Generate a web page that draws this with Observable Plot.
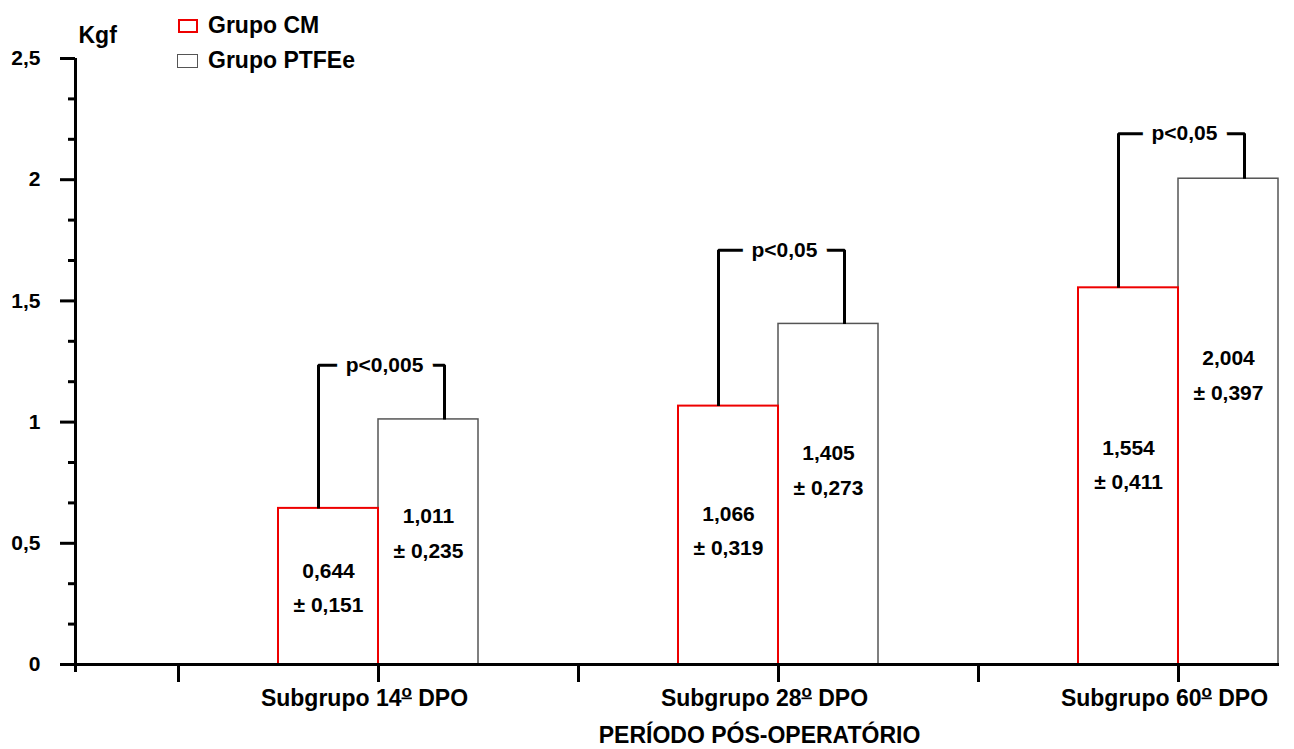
<!DOCTYPE html>
<html><head><meta charset="utf-8">
<script src="https://cdn.jsdelivr.net/npm/d3@7"></script>
<script src="https://cdn.jsdelivr.net/npm/@observablehq/plot@0.6"></script>
<style>
body{margin:0;background:#fff;}
#wrap{position:relative;width:1294px;height:749px;font-family:"Liberation Sans",Arial,sans-serif;}
.lg{position:absolute;font-weight:bold;font-size:23px;line-height:23px;white-space:nowrap;color:#000;}
.sw{position:absolute;box-sizing:border-box;width:20px;height:14px;background:#fff;}
</style></head><body><div id="wrap"></div>
<script>
// ---- data ----
const categories = ["Subgrupo 14º DPO", "Subgrupo 28º DPO", "Subgrupo 60º DPO"];
const cmMean = [0.644, 1.066, 1.554];
const cmSd = [0.151, 0.319, 0.411];
const ptfeMean = [1.011, 1.405, 2.004];
const ptfeSd = [0.235, 0.273, 0.397];
const pLabels = ["p<0,005", "p<0,05", "p<0,05"];
const bracketY = [1.235, 1.709, 2.19];
const yTicks = [0, 0.5, 1, 1.5, 2, 2.5];
const yTickLabels = ["0", "0,5", "1", "1,5", "2", "2,5"];
const seriesNames = ["Grupo CM", "Grupo PTFEe"];
const xAxisTitle = "PERÍODO PÓS-OPERATÓRIO";
const yAxisTitle = "Kgf";

// ---- build ----
const FONT = '"Liberation Sans", Arial, sans-serif';
const RED = "#ee0000", GREY = "#555";
const xMin = 0.2425, xMax = 3.2525;
const halfTicks = d3.range(1, 7).map(k => k / 2);
const minorTicks = d3.range(0, 15).map(k => k / 6).filter(v => Math.abs(v * 2 - Math.round(v * 2)) > 1e-6);
const groups = categories.map((c, i) => ({
  cat: c, x: i + 1, cm: cmMean[i], cmSd: cmSd[i], pt: ptfeMean[i], ptSd: ptfeSd[i], p: pLabels[i], by: bracketY[i]
}));
const fmt = v => v.toFixed(3).replace(".", ",");
const brackets = groups.flatMap((g, i) => [
  {g: i, x: g.x - 0.15, y: g.cm},
  {g: i, x: g.x - 0.15, y: g.by},
  {g: i, x: g.x + 0.165, y: g.by},
  {g: i, x: g.x + 0.165, y: g.pt}
]);
const txt = {fontSize: 21, fontWeight: "bold", fill: "black"};

const chart = Plot.plot({
  width: 1294, height: 749,
  marginLeft: 75, marginRight: 15, marginTop: 58, marginBottom: 85,
  style: {fontFamily: FONT, background: "white", overflow: "visible"},
  x: {domain: [xMin, xMax], axis: null},
  y: {domain: [0, 2.5], axis: null},
  marks: [
    Plot.rect(groups, {x1: "x", x2: d => d.x + 0.25, y1: 0, y2: "pt", fill: "white", stroke: GREY, strokeWidth: 1.5}),
    Plot.rect(groups, {x1: d => d.x - 0.25, x2: "x", y1: 0, y2: "cm", fill: "white", stroke: RED, strokeWidth: 2}),
    Plot.line(brackets, {x: "x", y: "y", z: "g", stroke: "black", strokeWidth: 3, strokeLinejoin: "miter", strokeLinecap: "butt"}),
    Plot.text(groups, {x: d => d.x + 0.015, y: "by", text: "p", lineAnchor: "middle", ...txt, stroke: "white", strokeWidth: 20}),
    Plot.text(groups, {x: d => d.x - 0.125, y: d => 0.555 * d.cm, text: d => fmt(d.cm), lineAnchor: "bottom", ...txt}),
    Plot.text(groups, {x: d => d.x - 0.125, y: d => 0.555 * d.cm, dy: 34, text: d => "± " + fmt(d.cmSd), lineAnchor: "bottom", ...txt}),
    Plot.text(groups, {x: d => d.x + 0.125, y: d => 0.658 * d.pt - 0.082, text: d => fmt(d.pt), lineAnchor: "bottom", ...txt}),
    Plot.text(groups, {x: d => d.x + 0.125, y: d => 0.658 * d.pt - 0.082, dy: 35, text: d => "± " + fmt(d.ptSd), lineAnchor: "bottom", ...txt}),
    // axes
    Plot.ruleY([0], {x1: xMin, x2: xMax, stroke: "black", strokeWidth: 3}),
    Plot.ruleX([xMin], {y1: 0, y2: 2.5, stroke: "black", strokeWidth: 3}),
    Plot.axisY({ticks: yTicks, tickSize: 15, tickPadding: 20, strokeWidth: 3, label: null,
      tickFormat: d => yTickLabels[yTicks.indexOf(d)], fontSize: 21, fontWeight: "bold", fill: "black", stroke: "black"}),
    Plot.axisY({ticks: minorTicks, tickSize: 7, strokeWidth: 3, label: null, tickFormat: () => "", stroke: "black"}),
    Plot.axisX({ticks: halfTicks, tickSize: 18, strokeWidth: 3, label: null, tickFormat: () => "", stroke: "black"}),
    Plot.axisX({ticks: [xMin], tickSize: 8, strokeWidth: 3, label: null, tickFormat: () => "", stroke: "black"}),
    Plot.text(groups, {x: "x", y: 0, dx: -14, dy: 41, text: "cat", lineAnchor: "bottom", fontSize: 23, fontWeight: "bold", fill: "black"}),
    Plot.text([xAxisTitle], {x: groups[1].x, y: 0, dx: -19, dy: 78, text: d => d, lineAnchor: "bottom", fontSize: 23, fontWeight: "bold", fill: "black"}),
    Plot.text([yAxisTitle], {frameAnchor: "top-left", dx: 3, dy: -16, text: d => d, textAnchor: "start", lineAnchor: "bottom", fontSize: 23, fontWeight: "bold", fill: "black"})
  ]
});
const wrap = document.getElementById("wrap");
wrap.appendChild(chart);

// render the ordinal "º" as a raised, underlined small "o" (as in the reference)
d3.select(chart).selectAll("text").each(function () {
  const el = d3.select(this);
  if (el.selectAll("tspan").size() > 0) return;
  const s = el.text();
  const k = s.indexOf("º");
  if (k < 0) return;
  el.text(null);
  el.append("tspan").text(s.slice(0, k));
  el.append("tspan").attr("dy", "-9").attr("font-size", "17px").attr("text-decoration", "underline").text("o");
  el.append("tspan").attr("dy", "9").text(s.slice(k + 1));
});

// legend (HTML overlay)
const legendItems = [
  {name: seriesNames[0], color: RED, bw: 2, left: 178, top: 19, w: 20},
  {name: seriesNames[1], color: GREY, bw: 1.5, left: 177, top: 54, w: 21}
];
legendItems.forEach((it, i) => {
  const sw = document.createElement("div");
  sw.className = "sw";
  sw.style.left = it.left + "px"; sw.style.top = it.top + "px"; sw.style.width = it.w + "px";
  sw.style.border = it.bw + "px solid " + it.color;
  wrap.appendChild(sw);
  const t = document.createElement("div");
  t.className = "lg";
  t.textContent = it.name;
  t.style.left = "208px"; t.style.top = (13.5 + i * 35) + "px";
  wrap.appendChild(t);
});
</script></body></html>
